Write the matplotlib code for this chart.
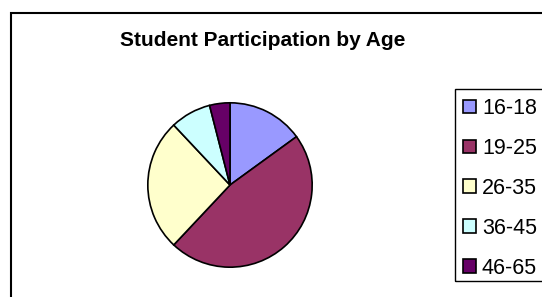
import matplotlib
matplotlib.use('Agg')
import matplotlib.pyplot as plt
from matplotlib.patches import Rectangle

plt.rcParams['font.family'] = ['Liberation Sans', 'DejaVu Sans']

# data
ages = ['16-18', '19-25', '26-35', '36-45', '46-65']
share = [15, 47, 26, 8, 4]
colors = ['#9999FF', '#993366', '#FFFFCC', '#CCFFFF', '#660066']

W, H = 542, 297
fig = plt.figure(figsize=(W / 100, H / 100), dpi=100)

# outer chart border (cut off at right and bottom)
fig.patches.append(Rectangle((11 / W, -0.1), 1.2, (H - 13) / H + 0.1,
                             transform=fig.transFigure, fill=False,
                             edgecolor='black', linewidth=1.5))

fig.text(263 / W, (H - 40) / H, 'Student Participation by Age',
         ha='center', va='center', fontsize=15, fontweight='bold')

# pie
cx, cy, r = 230, 185, 83
ax = fig.add_axes([(cx - r) / W, (H - cy - r) / H, 2 * r / W, 2 * r / H])
wedges, _ = ax.pie(share, colors=colors, startangle=90, counterclock=False,
                   wedgeprops=dict(edgecolor='black', linewidth=1.2))
ax.set_xlim(-1.01, 1.01)
ax.set_ylim(-1.01, 1.01)
ax.set_aspect('auto')
ax.axis('off')

# legend box
fig.patches.append(Rectangle((455 / W, (H - 281) / H), 1, (281 - 89) / H,
                             transform=fig.transFigure, fill=False,
                             edgecolor='black', linewidth=1))
fig.legend(wedges, ages, loc='upper left', bbox_to_anchor=(463 / W, (H - 98) / H),
           frameon=False, fontsize=15.5, handlelength=0.6, handleheight=0.6,
           handletextpad=0.28, labelspacing=0.88, borderpad=0, borderaxespad=0)

fig.savefig('out.png', dpi=100)
